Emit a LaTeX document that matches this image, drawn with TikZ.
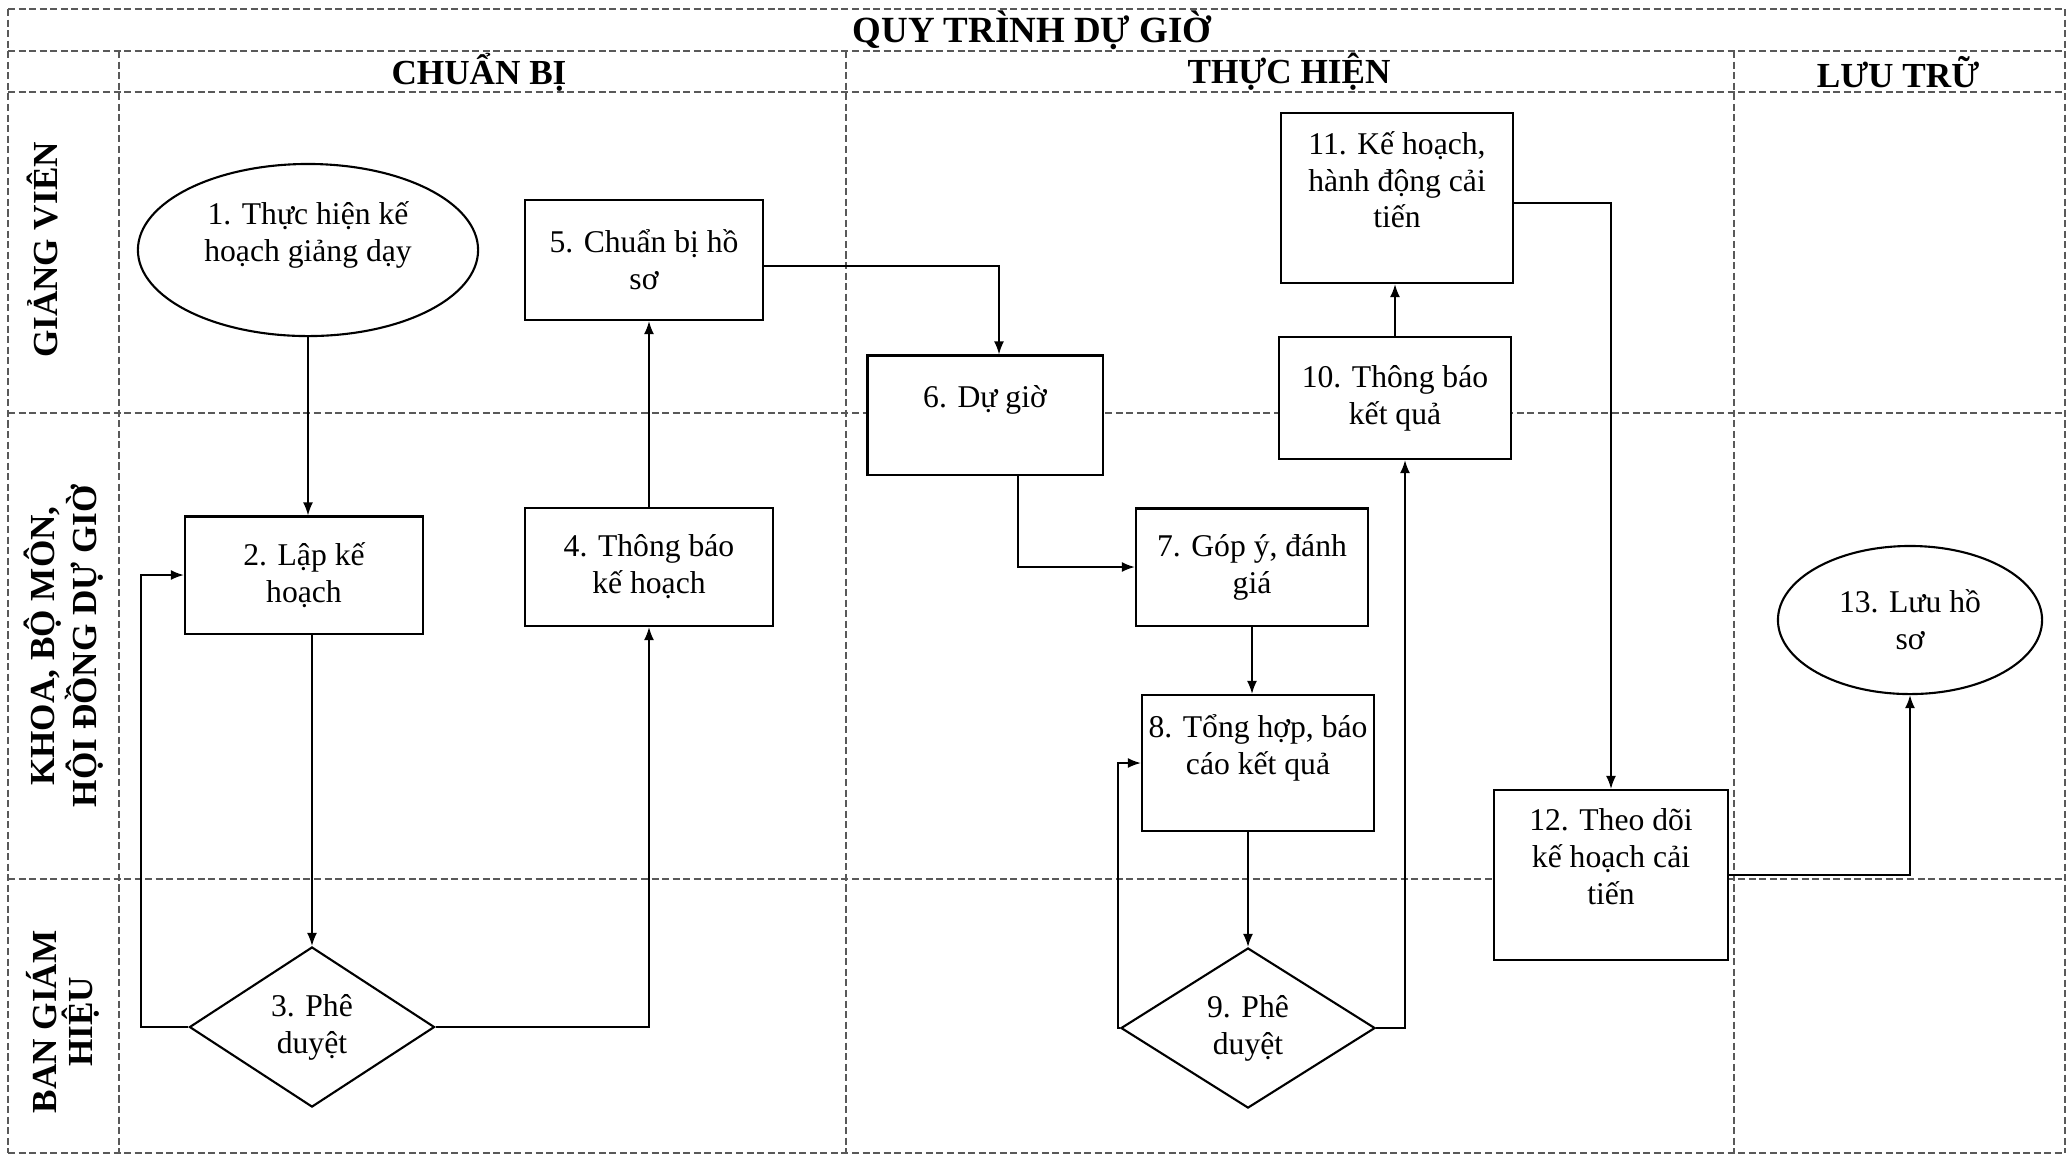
\documentclass[tikz,border=0pt]{standalone}
\usepackage{fontspec}
\setmainfont{Liberation Serif}
\usetikzlibrary{shapes.geometric,arrows.meta}

\tikzset{
  lane/.style={dash pattern=on 2pt off 1pt, line width=.35pt, black!65},
  head/.style={font=\fontsize{10}{12}\selectfont\bfseries},
  who/.style={font=\fontsize{10}{10.3}\selectfont\bfseries, rotate=90, align=center},
  box/.style={draw, fill=white, line width=.6pt, align=center, inner sep=0pt,
              font=\fontsize{9}{10.5}\selectfont},
  oval/.style={box, ellipse},
  gate/.style={box, diamond, aspect=1.6},
  arr/.style={-{Latex[length=1.3mm,width=1mm]}, line width=.5pt}
}

\begin{document}
\begin{tikzpicture}[x=0.01cm,y=-0.01cm]
\useasboundingbox (0,0) rectangle (2067,1162);

% lanes and columns
\draw[lane] (8,9)    -- (2065,9);
\draw[lane] (8,51)   -- (2065,51);
\draw[lane] (8,92)   -- (2065,92);
\draw[lane] (8,413)  -- (2065,413);
\draw[lane] (8,879)  -- (2065,879);
\draw[lane] (8,1153) -- (2065,1153);
\draw[lane] (8,9)    -- (8,1153);
\draw[lane] (2065,9) -- (2065,1153);
\draw[lane] (119,51)  -- (119,1153);
\draw[lane] (846,51)  -- (846,1153);
\draw[lane] (1734,51) -- (1734,1153);

\node[head, font=\fontsize{10.5}{12}\selectfont\bfseries] (title) at (1032,30) {QUY TRÌNH DỰ GIỜ};
\node[head] (prep)  at (479,72)  {CHUẨN BỊ};
\node[head] (run)   at (1289,72) {THỰC HIỆN};
\node[head] (keep)  at (1898,72) {LƯU TRỮ};

\node[who] (gv)  at (43,250)  {GIẢNG VIÊN};
\node[who] (kh)  at (64,646)  {KHOA, BỘ MÔN,\\HỘI ĐỒNG DỰ GIỜ};
\node[who] (bgh) at (63,1022) {BAN GIÁM\\HIỆU};

% steps
\node[oval, minimum width=3.4cm,  minimum height=1.72cm] (n1)  at (308,250)  {1. Thực hiện kế\\hoạch giảng dạy\\ \mbox{}};
\node[box,  minimum width=2.38cm, minimum height=1.17cm] (n2)  at (304,575)  {2. Lập kế\\hoạch};
\node[gate, minimum width=2.45cm, minimum height=1.6cm]  (n3)  at (312,1027) {3. Phê\\duyệt};
\node[box,  minimum width=2.47cm, minimum height=1.18cm] (n4)  at (649,567)  {4. Thông báo\\kế hoạch};
\node[box,  minimum width=2.38cm, minimum height=1.2cm]  (n5)  at (644,260)  {5. Chuẩn bị hồ\\sơ};
\node[box,  minimum width=2.35cm, minimum height=1.19cm] (n6)  at (985,415)  {6. Dự giờ\\ \mbox{}};
\node[box,  minimum width=2.32cm, minimum height=1.17cm] (n7)  at (1252,567) {7. Góp ý, đánh\\giá};
\node[box,  minimum width=2.32cm, minimum height=1.36cm] (n8)  at (1258,763) {8. Tổng hợp, báo\\cáo kết quả\\ \mbox{}};
\node[gate, minimum width=2.54cm, minimum height=1.6cm]  (n9)  at (1248,1028) {9. Phê\\duyệt};
\node[box,  minimum width=2.32cm, minimum height=1.22cm] (n10) at (1395,398) {10. Thông báo\\kết quả};
\node[box,  minimum width=2.32cm, minimum height=1.7cm]  (n11) at (1397,198) {11. Kế hoạch,\\hành động cải\\tiến\\ \mbox{}};
\node[box,  minimum width=2.34cm, minimum height=1.7cm]  (n12) at (1611,875) {12. Theo dõi\\kế hoạch cải\\tiến\\ \mbox{}};
\node[oval, minimum width=2.64cm, minimum height=1.48cm] (n13) at (1910,620) {13. Lưu hồ\\sơ};

\coordinate (back3) at (141,800);
\coordinate (back9) at (1118,900);

% flow
\draw[arr] (n1.south) -- (n1.south |- n2.north);
\draw[arr] (n3.north |- n2.south) -- (n3.north);
\draw[arr] (n3.west) -| (back3) |- (n2.west);
\draw[arr] (n3.east) -| (n4.south);
\draw[arr] (n4.north) -- (n4.north |- n5.south);
\draw[arr] ([yshift=-.06cm]n5.east) -| ([xshift=.14cm]n6.north);
\draw[arr] ([xshift=.33cm]n6.south) |- (n7.west);
\draw[arr] (n7.south) -- (n7.south |- n8.north);
\draw[arr] (n9.north |- n8.south) -- (n9.north);
\draw[arr] (n9.west) -| (back9) |- (n8.west);
\draw[arr] (n9.east) -| ([xshift=.1cm]n10.south);
\draw[arr] (n10.north) -- (n10.north |- n11.south);
\draw[arr] ([yshift=-.05cm]n11.east) -| (n12.north);
\draw[arr] (n12.east) -| (n13.south);
\end{tikzpicture}
\end{document}
